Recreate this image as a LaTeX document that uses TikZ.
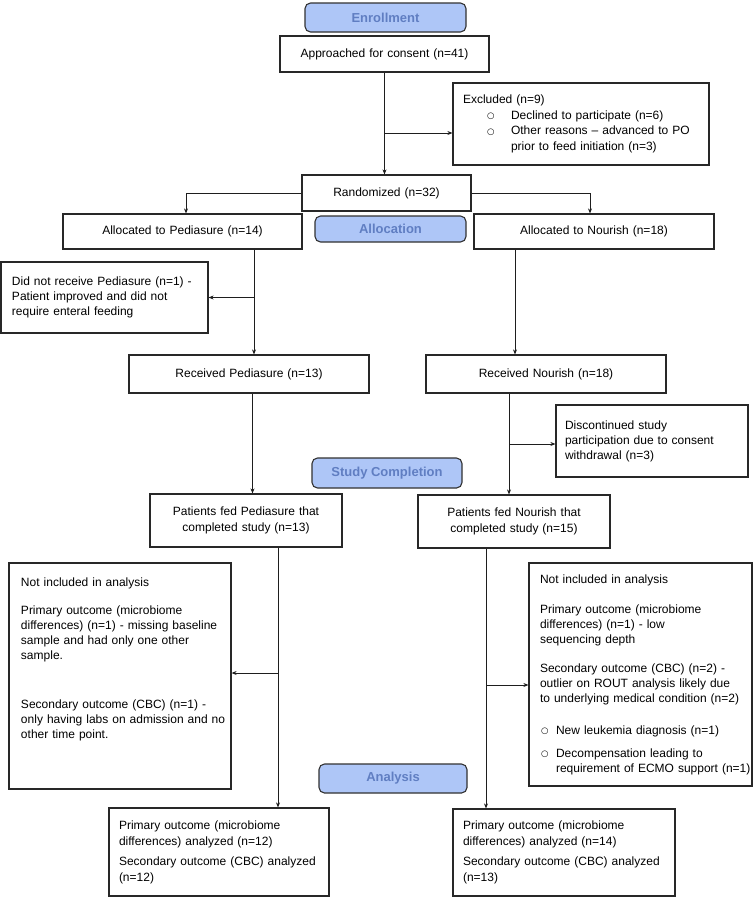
\documentclass[tikz,border=0pt]{standalone}
\usepackage{fontspec}
\setmainfont{Liberation Sans}
\newfontfamily\dejavu{DejaVu Sans}
\usetikzlibrary{arrows.meta}
\definecolor{phfill}{RGB}{174,198,247}
\definecolor{phtext}{RGB}{96,126,194}
\definecolor{phb}{RGB}{50,50,50}
\definecolor{boxc}{RGB}{40,40,40}
\definecolor{linec}{RGB}{30,30,30}
\newcommand{\bul}{\raisebox{0.6pt}{\dejavu\fontsize{8.5}{8.5}\selectfont ○}}
\begin{document}
\begin{tikzpicture}[x=1pt,y=-1pt,
  box/.style={draw=boxc, line width=1.2pt, inner xsep=0pt, inner ysep=2pt, fill=white,
    font=\fontsize{12}{15}\selectfont},
  cbox/.style={box, align=center},
  lbox/.style={box, align=left},
  phase/.style={draw=phb, fill=phfill, rounded corners=5.5pt, line width=1.1pt, inner sep=0pt,
    font=\fontsize{13}{15}\selectfont\bfseries, text=phtext},
  ln/.style={line width=0.8pt, draw=linec},
  arr/.style={ln, -{Stealth[length=5pt,width=4pt]}}]
\useasboundingbox[fill=white] (0,0) rectangle (755,900);

% phase labels
\node[phase, minimum width=161pt, minimum height=29pt] (enroll) at (385.5,17.5) {Enrollment};
\node[phase, minimum width=151pt, minimum height=26pt] (alloc) at (390.5,229) {Allocation};
\node[phase, minimum width=150pt, minimum height=30pt] (study) at (387,473) {Study Completion};
\node[phase, minimum width=148pt, minimum height=29pt] (anal) at (393,778.5) {Analysis};

% boxes
\node[cbox, text width=209pt, minimum height=36pt] (appr) at (384.5,54) {Approached for consent (n=41)};
\node[lbox, text width=256pt, minimum height=82pt, font=\fontsize{12}{15.5}\selectfont] (excl) at (581,124) {\leftskip=10pt\parindent=0pt
Excluded (n=9)\\
\hspace*{24pt}\makebox[24pt][l]{\bul}Declined to participate (n=6)\\
\hspace*{24pt}\makebox[24pt][l]{\bul}Other reasons – advanced to PO\\
\hspace*{48pt}prior to feed initiation (n=3)\par};
\node[cbox, text width=169pt, minimum height=36pt] (rand) at (386.5,193) {Randomized (n=32)};
\node[cbox, text width=239pt, minimum height=35pt] (allocP) at (182.5,231.5) {Allocated to Pediasure (n=14)};
\node[cbox, text width=240pt, minimum height=35pt] (allocN) at (594,231.5) {Allocated to Nourish (n=18)};
\node[lbox, text width=207pt, minimum height=71pt] (didnot) at (104.5,297.5) {\leftskip=11pt\parindent=0pt
Did not receive Pediasure (n=1) -\\
Patient improved and did not\\
require enteral feeding\par};
\node[cbox, text width=240pt, minimum height=38pt] (recP) at (249,374) {Received Pediasure (n=13)};
\node[cbox, text width=240pt, minimum height=38pt] (recN) at (546,374) {Received Nourish (n=18)};
\node[lbox, text width=192pt, minimum height=72pt] (disc) at (652,441) {\leftskip=9pt\parindent=0pt
Discontinued study\\
participation due to consent\\
withdrawal (n=3)\par};
\node[cbox, text width=192pt, minimum height=53pt, font=\fontsize{12}{16}\selectfont] (fedP) at (246,520.5) {Patients fed Pediasure that\\completed study (n=13)};
\node[cbox, text width=192pt, minimum height=53pt, font=\fontsize{12}{16}\selectfont] (fedN) at (514,521.5) {Patients fed Nourish that\\completed study (n=15)};
\node[lbox, text width=222pt, minimum height=226pt] (notP) at (120,676) {\leftskip=12pt\parindent=0pt
Not included in analysis\\[13pt]
Primary outcome (microbiome\\
differences) (n=1) - missing baseline\\
sample and had only one other\\
sample.\\[34pt]
Secondary outcome (CBC) (n=1) -\\
only having labs on admission and no\\
other time point.\\[21pt]\mbox{}\par};
\node[lbox, text width=223pt, minimum height=223pt] (notN) at (640.5,674.5) {\leftskip=11pt\parindent=0pt
Not included in analysis\\[15pt]
Primary outcome (microbiome\\
differences) (n=1) - low\\
sequencing depth\\[14pt]
Secondary outcome (CBC) (n=2) -\\
outlier on ROUT analysis likely due\\
to underlying medical condition (n=2)\\[17pt]
\hspace*{1pt}\makebox[15pt][l]{\bul}New leukemia diagnosis (n=1)\\[8pt]
\hspace*{1pt}\makebox[15pt][l]{\bul}Decompensation leading to\\
\hspace*{16pt}requirement of ECMO support (n=1)\par};
\node[lbox, text width=220pt, minimum height=88pt, font=\fontsize{12}{16}\selectfont] (botP) at (219,852) {\leftskip=10pt\parindent=0pt
Primary outcome (microbiome\\
differences) analyzed (n=12)\\[4pt]
Secondary outcome (CBC) analyzed\\
(n=12)\par};
\node[lbox, text width=222pt, minimum height=87pt, font=\fontsize{12}{16}\selectfont] (botN) at (564,852.5) {\leftskip=10pt\parindent=0pt
Primary outcome (microbiome\\
differences) analyzed (n=14)\\[4pt]
Secondary outcome (CBC) analyzed\\
(n=13)\par};

% helper coordinates
\coordinate (b1) at (0,133);
\coordinate (c1) at (254,0);
\coordinate (c2) at (515,0);
\coordinate (c3) at (252.5,0);
\coordinate (c4) at (509,0);
\coordinate (b4) at (0,444);
\coordinate (c5) at (278,0);
\coordinate (b5) at (0,673);
\coordinate (c6) at (486,0);
\coordinate (b6) at (0,685);

% connectors
\draw[arr] (appr.south) -- (appr.south |- rand.north);
\draw[arr] (appr.south |- b1) -- (excl.west |- b1);
\draw[arr] (rand.west) -| ([xshift=3.5pt]allocP.north);
\draw[arr] (rand.east) -| ([xshift=-4pt]allocN.north);
\draw[arr] (allocP.south -| c1) -- (recP.north -| c1);
\draw[arr] (c1 |- didnot.east) -- (didnot.east);
\draw[arr] (allocN.south -| c2) -- (recN.north -| c2);
\draw[arr] (recP.south -| c3) -- (fedP.north -| c3);
\draw[arr] (recN.south -| c4) -- (fedN.north -| c4);
\draw[arr] (c4 |- b4) -- (disc.west |- b4);
\draw[arr] (fedP.south -| c5) -- (botP.north -| c5);
\draw[arr] (c5 |- b5) -- (notP.east |- b5);
\draw[arr] (fedN.south -| c6) -- (botN.north -| c6);
\draw[arr] (c6 |- b6) -- (notN.west |- b6);
\end{tikzpicture}
\end{document}
